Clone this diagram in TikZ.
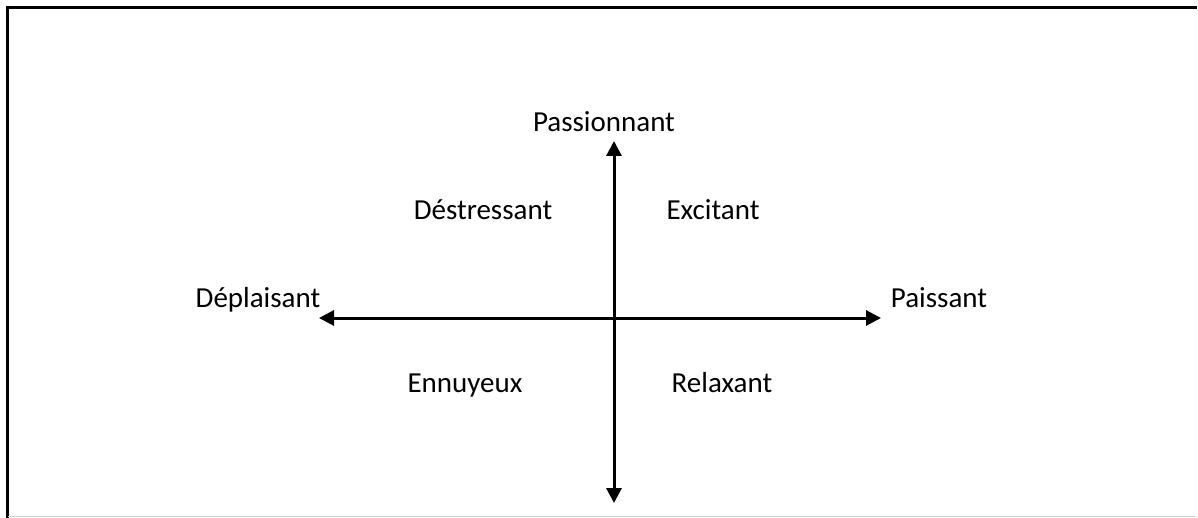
\documentclass[tikz,border=0pt]{standalone}
\usepackage{fontspec}
\setmainfont{Carlito}
\usetikzlibrary{arrows.meta}
\begin{document}
\begin{tikzpicture}[x=1pt,y=-1pt,
  lbl/.style={font=\fontsize{29}{34}\selectfont, inner sep=0pt, anchor=base},
  axis/.style={line width=3pt, {Triangle[length=15pt,width=15pt]}-{Triangle[length=15pt,width=15pt]}}]
\useasboundingbox (0,0) rectangle (1198,518);
\fill[white] (0,0) rectangle (1198,518);
\draw[line width=2.5pt, line cap=rect] (7.5,518) -- (7.5,7.5) -- (1196,7.5);
\draw[line width=1.5pt, black!18] (8,516.5) -- (1196,516.5);
\coordinate (top) at (614,141);
\coordinate (bot) at (614,503);
\coordinate (lft) at (319,318);
\coordinate (rgt) at (881,318);
\draw[axis] (top) -- (bot);
\draw[axis] (lft) -- (rgt);
\node[lbl] (pas) at (604,132) {Passionnant};
\node[lbl] (des) at (483,220) {Déstressant};
\node[lbl] (exc) at (713,220) {Excitant};
\node[lbl] (dep) at (258,307) {Déplaisant};
\node[lbl] (pai) at (939,307) {Paissant};
\node[lbl] (enn) at (465,392) {Ennuyeux};
\node[lbl] (rel) at (722,392) {Relaxant};
\end{tikzpicture}
\end{document}
